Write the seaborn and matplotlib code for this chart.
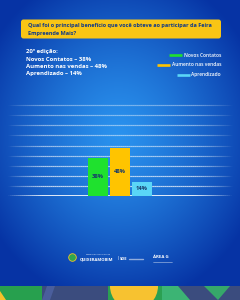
import numpy as np
import matplotlib
matplotlib.use("Agg")
import matplotlib.pyplot as plt
import matplotlib.colors as mcolors
import seaborn as sns
from matplotlib.collections import LineCollection
from matplotlib.patches import FancyBboxPatch, Rectangle, Polygon, Wedge, Circle

# data
question = ["Qual foi o principal benefício que você obteve ao participar da Feira",
            "Empreende Mais?"]
edition = "20º edição:"
categories = ["Novos Contatos", "Aumento nas vendas", "Aprendizado"]
values = [38, 48, 14]
colors = ["#1fe12e", "#ffc400", "#5ad6f7"]
grid_levels = [10, 20, 30, 40, 50, 60, 70, 80, 90]

sns.set_theme(style="white")
plt.rcParams["font.family"] = ["Open Sans", "DejaVu Sans"]

fig = plt.figure(figsize=(2.4, 3.0), dpi=100)

# background in pixel coords (y down)
bg = fig.add_axes([0, 0, 1, 1])
bg.set_xlim(0, 240)
bg.set_ylim(300, 0)
bg.axis("off")

yy, xx = np.mgrid[0:300, 0:240]
d = np.sqrt(((xx - 118) / 150.0) ** 2 + ((yy - 135) / 170.0) ** 2)
t = np.clip(d, 0, 1) ** 1.3
c0 = np.array(mcolors.to_rgb("#2a92ee"))
c1 = np.array(mcolors.to_rgb("#0633a4"))
img = c0 * (1 - t[..., None]) + c1 * t[..., None]
bg.imshow(img, extent=(0, 240, 300, 0), aspect="auto", zorder=0)

# question box
bg.add_patch(FancyBboxPatch((21, 19.5), 200, 19, boxstyle="round,pad=0,rounding_size=2.5",
                            fc="#f9c515", ec="none", zorder=1))
bg.text(28, 25.3, question[0], color="#123b86", fontsize=4.0, fontweight="bold",
        va="center", ha="left", zorder=2)
bg.text(28, 33.0, question[1], color="#123b86", fontsize=4.0, fontweight="bold",
        va="center", ha="left", zorder=2)

# summary text block
lines = [edition] + [f"{c} – {v}%" for c, v in zip(categories, values)]
for i, s in enumerate(lines):
    bg.text(26.5, 51.7 + i * 7.35, s, color="white", fontsize=4.3, fontweight="bold",
            va="center", ha="left")

# legend: right aligned labels, colour bar just left of each label
renderer = fig.canvas.get_renderer()
for i, (cat, col) in enumerate(zip(categories, colors)):
    y = 55.4 + i * 9.6
    txt = bg.text(221, y, cat, color="white", fontsize=3.5, fontweight="semibold",
                  ha="right", va="center")
    bb = txt.get_window_extent(renderer).transformed(bg.transData.inverted())
    left = min(bb.x0, bb.x1) - 1.8
    bg.plot([left - 12.5, left], [y, y], color=col, lw=1.9, solid_capstyle="butt")

# footer strip
bg.add_patch(Rectangle((0, 286), 42, 14, fc="#27a04e", ec="none"))
bg.add_patch(Polygon([(0, 291), (6, 300), (0, 300)], fc="#f5c02a", ec="none"))
bg.add_patch(Rectangle((42, 286), 66, 14, fc="#3b4c7e", ec="none"))
bg.add_patch(Polygon([(42, 300), (47, 286), (55, 286), (50, 300)], fc="#4a5e9c", ec="none"))
bg.add_patch(Rectangle((108, 286), 54, 14, fc="#2ba052", ec="none"))
bg.add_patch(Wedge((134, 286), 24, 0, 180, fc="#f7c230", ec="none"))
bg.add_patch(Rectangle((162, 286), 78, 14, fc="#3b4c7e", ec="none"))
bg.add_patch(Polygon([(162, 286), (178, 286), (190, 300), (162, 300)], fc="#3cb474", ec="none"))
bg.add_patch(Polygon([(204, 286), (230, 286), (218, 300)], fc="#36a86a", ec="none"))

# footer logos
bg.add_patch(Circle((72.5, 257.5), 3.8, fc="#2fa64e", ec="#f5c02a", lw=0.6))
bg.text(98.5, 254.3, "PREFEITURA MUNICIPAL DE", color="white", fontsize=1.4,
        ha="center", va="center")
bg.text(79.5, 259.0, "QUIXERAMOBIM", color="white", fontsize=3.0, fontweight="bold",
        ha="left", va="center")
bg.text(116.5, 258.5, "|", color="white", fontsize=3.2, ha="left", va="center")
bg.text(119.5, 258.8, "SDE", color="white", fontsize=3.0, fontweight="bold",
        ha="left", va="center")
bg.plot([128.5, 143], [258.5, 258.5], color="#c9d4ea", lw=1.0, alpha=0.7)
bg.text(153, 256.5, "ÁREA G", color="white", fontsize=3.2, fontweight="bold",
        ha="left", va="center")
bg.plot([153, 172], [261.5, 261.5], color="white", lw=0.4, alpha=0.7)

# chart axes: x positions map to pixels (22 px per category, first at 98 px)
ax = fig.add_axes([0, 104 / 300, 1, 101 / 300])
ax.patch.set_alpha(0)

# faded grid lines
xs = np.linspace(-98 / 22, 142 / 22, 121)
px = xs * 22 + 98
prof = np.clip((px - 8) / 35, 0, 1) * np.clip((232 - px) / 38, 0, 1)
prof = prof ** 0.8
for lev in [0] + grid_levels:
    base = 0.95 if lev == 0 else 0.75 - lev * 0.004
    segs = [[(xs[i], lev), (xs[i + 1], lev)] for i in range(len(xs) - 1)]
    cols = [(1, 1, 1, base * (prof[i] + prof[i + 1]) / 2) for i in range(len(xs) - 1)]
    lc = LineCollection(segs, colors=cols, linewidths=1.3 if lev == 0 else 0.85,
                        capstyle="butt", zorder=1)
    ax.add_collection(lc)

sns.barplot(x=categories, y=values, hue=categories, palette=colors, width=0.91,
            saturation=1, legend=False, linewidth=0, edgecolor="none", ax=ax, zorder=3)
for cont in ax.containers:
    ax.bar_label(cont, labels=[f"{v:g}%" for v in cont.datavalues], label_type="center",
                 color="#163a6b", fontsize=4.2, fontweight="bold")

ax.set_xlim(-98 / 22, 142 / 22)
ax.set_ylim(0, 100)
ax.axis("off")

fig.savefig("out.png", dpi=100)
